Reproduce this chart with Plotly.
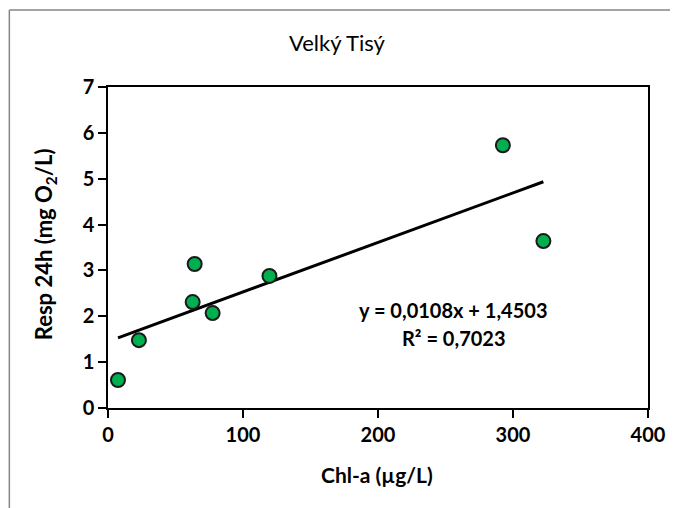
import numpy as np
import plotly.graph_objects as go

# Data
chl_a = [7.4, 22.9, 62.7, 64.2, 77.5, 119.6, 292.5, 322.5]
resp_24h = [0.61, 1.48, 2.31, 3.14, 2.07, 2.88, 5.73, 3.64]

slope = 0.0108
intercept = 1.4503
r_squared = 0.7023

title_text = "Velký Tisý"
x_title = "Chl-a (µg/L)"
y_title = "Resp 24h (mg O<sub>2</sub>/L)"
x_ticks = [0, 100, 200, 300, 400]
y_ticks = [0, 1, 2, 3, 4, 5, 6, 7]

FONT = "Lato"

x_line = np.array([min(chl_a), max(chl_a)])
y_line = slope * x_line + intercept

fig = go.Figure()
fig.add_trace(go.Scatter(
    x=x_line, y=y_line, mode="lines",
    line=dict(color="black", width=3), hoverinfo="skip", showlegend=False,
))
fig.add_trace(go.Scatter(
    x=chl_a, y=resp_24h, mode="markers",
    marker=dict(size=14, color="#00B050", line=dict(color="#1a1a1a", width=2)),
    showlegend=False,
))

axis_common = dict(
    showgrid=False, zeroline=False, showline=True, linecolor="black", linewidth=1.5,
    mirror=True, ticks="outside", ticklen=8, tickcolor="black", tickwidth=1.5,
    tickfont=dict(family=FONT, size=20, color="black", weight="bold"),
)
fig.update_xaxes(range=[0, 400], tickvals=x_ticks, **axis_common)
fig.update_yaxes(range=[0, 7], tickvals=y_ticks, **axis_common)

eq1 = "y = " + f"{slope:.4f}".replace(".", ",") + "x + " + f"{intercept:.4f}".replace(".", ",")
eq2 = "R² = " + f"{r_squared:.4f}".replace(".", ",")

annotations = [
    dict(text=title_text, xref="paper", yref="paper", x=0.4244, y=1.140,
         showarrow=False, font=dict(family=FONT, size=22, color="black"),
         xanchor="center", yanchor="middle"),
    dict(text=x_title, xref="paper", yref="paper", x=0.498, y=-0.2087,
         showarrow=False, font=dict(family=FONT, size=21, color="black", weight="bold"),
         xanchor="center", yanchor="middle"),
    dict(text=y_title, xref="paper", yref="paper", x=-0.1162, y=0.511, textangle=-90,
         showarrow=False, font=dict(family=FONT, size=22, color="black", weight="bold"),
         xanchor="center", yanchor="middle"),
    dict(text=eq1, xref="x", yref="y", x=256, y=2.13,
         showarrow=False, font=dict(family=FONT, size=20, color="black", weight="bold"),
         xanchor="center", yanchor="middle"),
    dict(text=eq2, xref="x", yref="y", x=256, y=1.53,
         showarrow=False, font=dict(family=FONT, size=20, color="black", weight="bold"),
         xanchor="center", yanchor="middle"),
]

shapes = [
    dict(type="line", xref="paper", yref="paper", x0=-0.1827, x1=1.048, y0=1.2399, y1=1.2399,
         line=dict(color="#868686", width=1.5)),
    dict(type="line", xref="paper", yref="paper", x0=-0.1827, x1=-0.1827, y0=1.2399, y1=-0.32,
         line=dict(color="#868686", width=1.5)),
]

fig.update_layout(
    width=670, height=500,
    margin=dict(l=100, r=28, t=79, b=100),
    plot_bgcolor="white", paper_bgcolor="white",
    annotations=annotations, shapes=shapes,
    font=dict(family=FONT, color="black"),
)

fig.write_html("out.html")
